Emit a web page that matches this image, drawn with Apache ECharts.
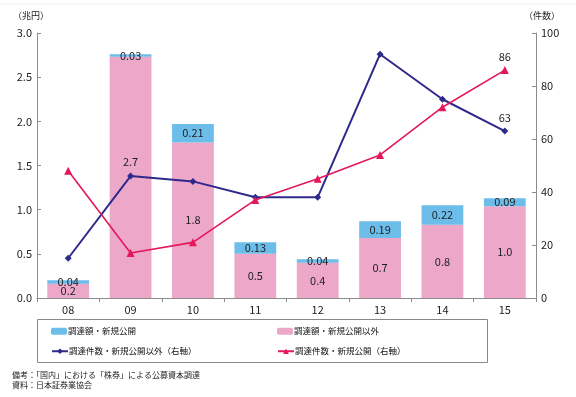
<!DOCTYPE html>
<html>
<head>
<meta charset="utf-8">
<script src="https://cdn.jsdelivr.net/npm/echarts@6/dist/echarts.min.js"></script>
<style>
  html, body { margin: 0; padding: 0; background: #fff; }
  #chart { width: 576px; height: 397px; }
</style>
</head>
<body>
<div id="chart"></div>
<script>
// 年度（暦年の下2桁）
var years = ['08', '09', '10', '11', '12', '13', '14', '15'];
// 調達額（兆円）
var amtIpo = [0.04, 0.03, 0.21, 0.13, 0.04, 0.19, 0.22, 0.09];
var amtOther = [0.16, 2.73, 1.76, 0.50, 0.40, 0.68, 0.83, 1.04];
// 調達件数（件）
var cntOther = [15, 46, 44, 38, 38, 92, 75, 63];
var cntIpo = [48, 17, 21, 37, 45, 54, 72, 86];
// 目盛
var leftTicks = { min: 0, max: 3, interval: 0.5 };
var rightTicks = { min: 0, max: 100, interval: 20 };

var FONT = '"Noto Sans CJK JP", sans-serif';
var C_BLUE = '#6dbdea', C_PINK = '#eda7c9', C_NAVY = '#2e2a8a', C_RED = '#e3175a';
var AXIS_C = '#8c8c8c';

var chart = echarts.init(document.getElementById('chart'));

// 最後の点だけラベル表示
function lastOnly(arr){
    return arr.map(function(v, i){
        return i === arr.length - 1 ? { value: v, label: { show: true } } : v;
    });
}
// 09年のラベルは折れ線を避けて少し上へ
var otherData = amtOther.map(function(v, i){
    return i === 1 ? { value: v, label: { offset: [0, -16] } } : v;
});

var legendText = { fontSize: 8.5, color: '#111', fontFamily: FONT, padding: [0, 0, 0, -4] };
function legendAt(name, x, y){
    return { data: [name], left: x, top: y, padding: 0, itemWidth: 16, itemHeight: 7, textStyle: legendText };
}

chart.setOption({
    animation: false,
    textStyle: { fontFamily: FONT },
    grid: { left: 37, right: 40, top: 33, bottom: 99, containLabel: false },
    legend: [
        legendAt('調達額・新規公開', 51, 327),
        legendAt('調達額・新規公開以外', 277, 327),
        legendAt('調達件数・新規公開以外（右軸）', 51, 347),
        legendAt('調達件数・新規公開（右軸）', 277, 347)
    ],
    xAxis: {
        type: 'category',
        data: years,
        axisLine: { lineStyle: { color: AXIS_C } },
        axisTick: { show: true, length: 4, inside: false, lineStyle: { color: AXIS_C } },
        axisLabel: { fontSize: 11, color: '#222', margin: 6 }
    },
    yAxis: [{
        type: 'value',
        min: leftTicks.min, max: leftTicks.max, interval: leftTicks.interval,
        axisLine: { show: true, lineStyle: { color: AXIS_C } },
        axisTick: { show: true, inside: true, length: 4, lineStyle: { color: AXIS_C } },
        splitLine: { show: false },
        axisLabel: { fontSize: 11, color: '#222', margin: 5, formatter: function(v){ return v.toFixed(1); } }
    }, {
        type: 'value',
        min: rightTicks.min, max: rightTicks.max, interval: rightTicks.interval,
        axisLine: { show: true, lineStyle: { color: AXIS_C } },
        axisTick: { show: true, inside: true, length: 4, lineStyle: { color: AXIS_C } },
        splitLine: { show: false },
        axisLabel: { fontSize: 11, color: '#222', margin: 5 }
    }],
    series: [{
        name: '調達額・新規公開以外',
        type: 'bar',
        stack: 'amt',
        barWidth: '67%',
        itemStyle: { color: C_PINK },
        label: {
            show: true, position: 'inside', fontSize: 11, color: '#222',
            formatter: function(p){ return Number(amtOther[p.dataIndex]).toFixed(1); }
        },
        data: otherData,
        z: 2
    }, {
        name: '調達額・新規公開',
        type: 'bar',
        stack: 'amt',
        barWidth: '67%',
        itemStyle: { color: C_BLUE },
        label: {
            show: true, position: 'inside', fontSize: 11, color: '#222',
            formatter: function(p){ return p.value.toFixed(2); }
        },
        data: amtIpo,
        z: 2
    }, {
        name: '調達件数・新規公開以外（右軸）',
        type: 'line',
        yAxisIndex: 1,
        symbol: 'diamond',
        symbolSize: 7,
        lineStyle: { color: C_NAVY, width: 2 },
        itemStyle: { color: C_NAVY },
        label: { show: false, position: 'top', fontSize: 11, color: '#222', distance: 4 },
        data: lastOnly(cntOther),
        z: 3
    }, {
        name: '調達件数・新規公開（右軸）',
        type: 'line',
        yAxisIndex: 1,
        symbol: 'triangle',
        symbolSize: 8,
        lineStyle: { color: C_RED, width: 1.6 },
        itemStyle: { color: C_RED },
        label: { show: false, position: 'top', fontSize: 11, color: '#222', distance: 4 },
        data: lastOnly(cntIpo),
        z: 4
    }],
    graphic: [
        { type: 'line', shape: { x1: 0, y1: 4, x2: 576, y2: 4 }, style: { stroke: '#eeeeee', lineWidth: 1 } },
        { type: 'text', left: 13, top: 11, style: { text: '（兆円）', fontSize: 9, fill: '#222', fontFamily: FONT } },
        { type: 'text', left: 524, top: 11, style: { text: '（件数）', fontSize: 9, fill: '#222', fontFamily: FONT } },
        { type: 'rect', shape: { x: 37.5, y: 319.5, width: 450, height: 43 }, style: { fill: 'none', stroke: '#888', lineWidth: 1 } },
        { type: 'text', left: 12, top: 371, style: { text: '備考：「国内」における「株券」による公募資本調達', fontSize: 8, fill: '#222', fontFamily: FONT } },
        { type: 'text', left: 12, top: 381, style: { text: '資料：日本証券業協会', fontSize: 8, fill: '#222', fontFamily: FONT } }
    ]
});
</script>
</body>
</html>
